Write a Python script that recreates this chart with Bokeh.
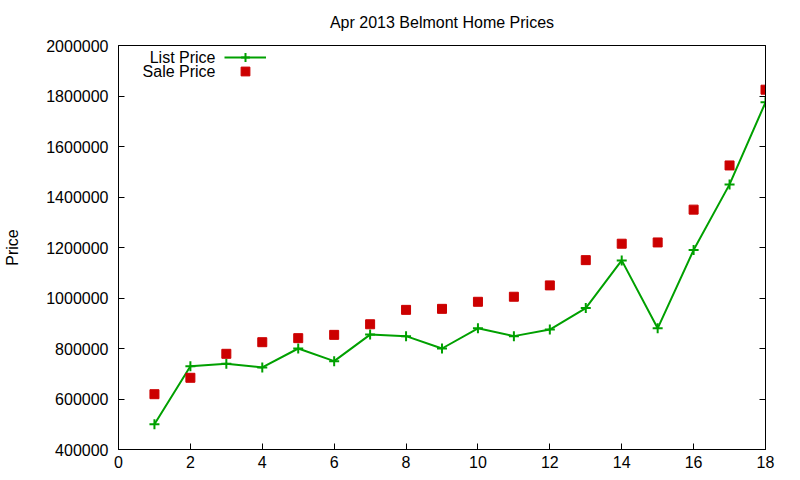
from bokeh.plotting import figure
from bokeh.models import (Range1d, SingleIntervalTicker, NumeralTickFormatter, LinearAxis,
                          CustomJSTickFormatter, Legend, LegendItem, Label)
from bokeh.embed import file_html
from bokeh.resources import INLINE

# ---- data ----
months = list(range(1, 19))
list_price = [500000, 730000, 740000, 725000, 800000, 750000, 855000, 849000, 800000,
              880000, 849000, 875000, 960000, 1149000, 880000, 1190000, 1450000, 1775000]
sale_price = [619000, 684000, 779000, 825000, 841000, 854000, 896000, 953000, 957000,
              985000, 1005000, 1050000, 1150000, 1215000, 1220000, 1350000, 1525000, 1825000]
title_text = "Apr 2013 Belmont Home Prices"
y_label = "Price"
series_names = ["List Price", "Sale Price"]

FONT = "Liberation Sans"
GREEN = "#00a000"
RED = "#cc0000"

p = figure(width=792, height=472, output_backend="svg", toolbar_location=None,
           x_range=Range1d(0, 18), y_range=Range1d(400000, 2000000),
           min_border_left=118, min_border_right=27, min_border_top=45, min_border_bottom=23,
           title=title_text, x_axis_type=None, y_axis_type=None)

p.title.align = "center"
p.title.vertical_align = "top"
p.title.text_font = FONT
p.title.text_font_size = "16px"
p.title.text_font_style = "normal"
p.title.text_color = "#000000"
p.title.standoff = 26

p.outline_line_color = "black"
p.outline_line_width = 1
p.background_fill_color = "white"
p.border_fill_color = "white"

xt = SingleIntervalTicker(interval=2)
yt = SingleIntervalTicker(interval=200000)

def style_axis(ax, labels=True):
    ax.major_tick_in = 6
    ax.major_tick_out = 0
    ax.minor_tick_in = 0
    ax.minor_tick_out = 0
    ax.axis_line_color = "black"
    ax.major_tick_line_color = "black"
    ax.major_label_text_font = FONT
    ax.major_label_text_font_size = "16px"
    ax.major_label_text_color = "#000000"
    if not labels:
        ax.formatter = CustomJSTickFormatter(code="return ''")
        ax.major_label_standoff = 0

xb = LinearAxis(ticker=xt)
style_axis(xb)
xb.major_label_standoff = 6
p.add_layout(xb, "below")

yl = LinearAxis(ticker=yt, formatter=NumeralTickFormatter(format="0"), axis_label=y_label)
style_axis(yl)
yl.major_label_standoff = 10
yl.axis_label_text_font = FONT
yl.axis_label_text_font_size = "16px"
yl.axis_label_text_font_style = "normal"
yl.axis_label_text_color = "#000000"
yl.axis_label_standoff = 22
p.add_layout(yl, "left")

yr = LinearAxis(ticker=yt)
style_axis(yr, labels=False)
p.add_layout(yr, "right")

p.xgrid.ticker = xt
p.ygrid.ticker = yt
for g in (p.xgrid, p.ygrid):
    g.grid_line_color = "#a0a0a0"
    g.grid_line_dash = "2 3"
    g.grid_line_width = 1

ln = p.line(months, list_price, line_color=GREEN, line_width=2)
cr = p.scatter(months, list_price, marker="cross", size=10, line_color=GREEN, line_width=2)
sq = p.scatter(months, sale_price, marker="square", size=9, fill_color=RED, line_color=RED)

for rends, loc in (([ln, cr], (106, 381)), ([sq], (106, 367))):
    lg = Legend(items=[LegendItem(label=" ", renderers=rends)],
                location=loc, glyph_width=42, glyph_height=22, label_height=22,
                spacing=0, padding=0, margin=0, label_standoff=0,
                border_line_alpha=0, background_fill_alpha=0)
    p.add_layout(lg, "center")

for name, yy in zip(series_names, [392, 378]):
    p.add_layout(Label(x=97, y=yy, x_units="screen", y_units="screen", text=name,
                       text_align="right", text_baseline="middle", text_font=FONT,
                       text_font_size="16px", text_color="#000000"))

open("out.html", "w").write(file_html(p, INLINE))
